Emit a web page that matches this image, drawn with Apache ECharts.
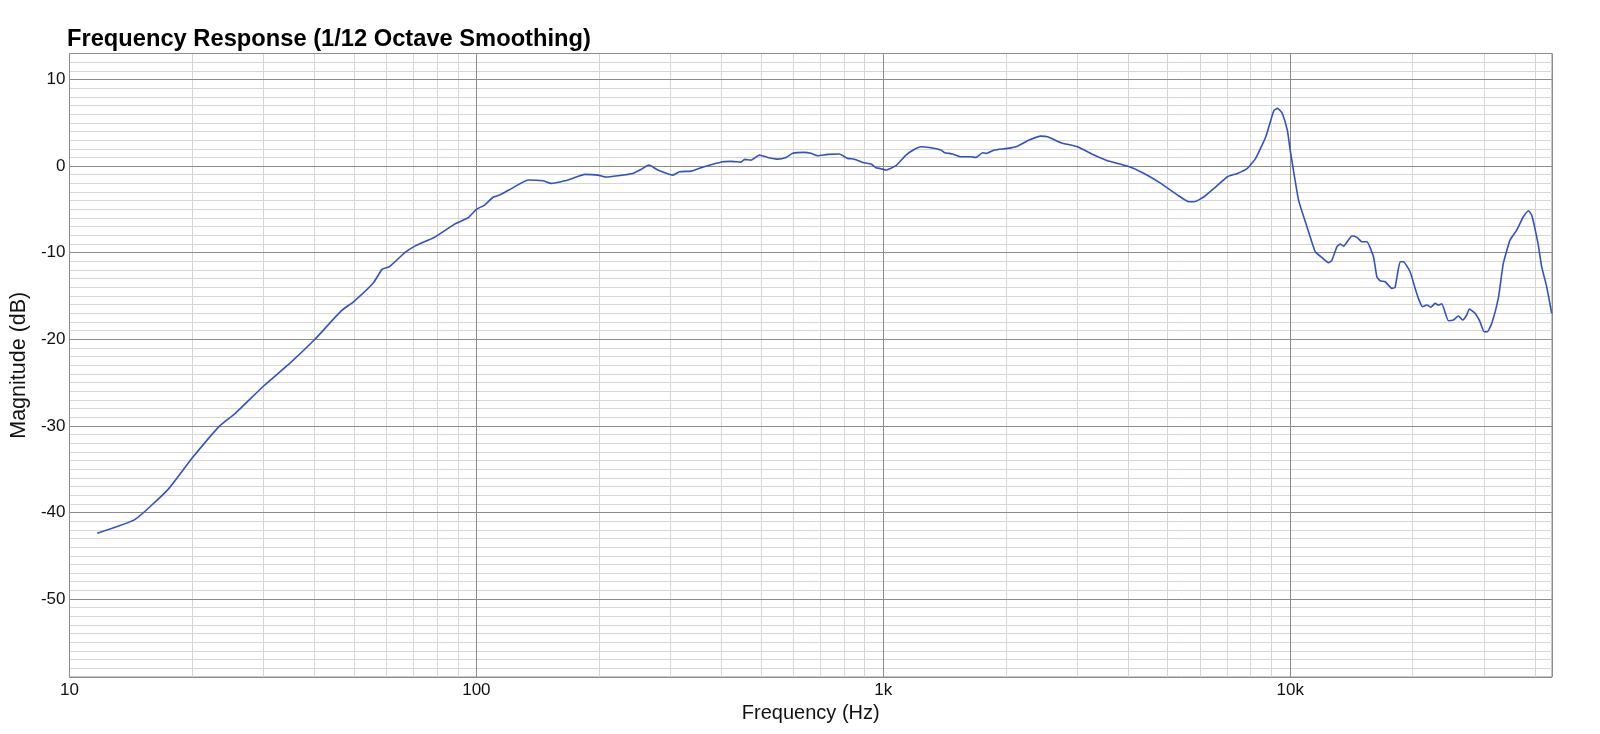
<!DOCTYPE html>
<html>
<head>
<meta charset="utf-8">
<title>Frequency Response</title>
<script src="https://cdn.jsdelivr.net/npm/echarts@6/dist/echarts.min.js"></script>
<style>
    html, body { margin: 0; padding: 0; background: #fff; }
    #chart { width: 1600px; height: 734px; }
</style>
</head>
<body>
<div id="chart"></div>
<script>
// 频率 (Hz)
var freqHz = [
    11.7, 14.5, 17.5, 20, 23.4, 25.5, 30, 35.1, 40.1, 46.6, 49.8, 55.8, 58.7, 61.2, 66.7, 70.6, 79, 88.4, 95.4,
    100, 104.8, 109.9, 114.1, 121.9, 134, 145.8, 152.8, 164.8, 172.8, 184.6, 199, 208.5, 222.8, 242.5, 254.2,
    265.5, 279.3, 304, 315.6, 337.3, 356.6, 377.3, 403.4, 422.7, 447, 456, 473, 496, 520, 550.5, 576.8, 599,
    640, 664, 690, 730, 780, 817.5, 849, 898, 933, 959, 987, 1015, 1074, 1137, 1191, 1237, 1309, 1385, 1412,
    1480, 1551, 1641, 1689, 1754, 1787, 1874, 2020, 2138, 2283, 2439, 2533, 2731, 3000, 3297, 3556, 3982,
    4375, 4811, 5286, 5641, 5807, 6142, 6567, 7012, 7420, 7848, 8224, 8710, 9040, 9141, 9300, 9420, 9566, 9840, 10000,
    10486, 10997, 11527, 11857, 12429, 12669, 13033, 13280, 13524, 14183, 14590, 15007, 15437, 16022, 16331,
    16638, 17116, 17774, 18109, 18629, 18980, 19709, 20277, 20663, 21135, 21667, 22160, 22708, 23136, 23582,
    24480, 25178, 25901, 26552, 27159, 27562, 28466, 29283, 29952, 30515, 31283, 32471, 33406, 34697, 36033,
    37411, 38486, 39227, 40718, 41509, 42701, 43919
];
// 幅度 (dB)
var magDb = [
    -42.4, -40.8, -37.3, -33.75, -30.0, -28.6, -25.4, -22.6, -20.0, -16.7, -15.7, -13.5, -11.9, -11.6, -10.0, -9.24, -8.2, -6.7, -5.97,
    -5.0, -4.5, -3.6, -3.35, -2.6, -1.6, -1.7, -2.0, -1.7, -1.4, -0.96, -1.04, -1.27, -1.12, -0.85, -0.38,
    0.12, -0.46, -1.04, -0.65, -0.58, -0.19, 0.15, 0.5, 0.54, 0.46, 0.77, 0.69, 1.27, 1.0, 0.8, 1.0, 1.47,
    1.58, 1.47, 1.19, 1.35, 1.39, 0.89, 0.8, 0.38, 0.23, -0.19, -0.3, -0.46, 0.04, 1.27, 1.92, 2.23, 2.12, 1.85, 1.58,
    1.39, 1.08, 1.08, 1.0, 1.54, 1.46, 1.85, 2.04, 2.3, 3.0, 3.46, 3.39, 2.7, 2.23, 1.27, 0.62, 0,
    -0.85, -2.0, -3.35, -4.12, -4.12, -3.54, -2.39, -1.23, -0.85, -0.27, 0.89, 3.39, 5.9, 6.47, 6.66, 6.47, 6.08, 4.16, 1.85,
    -3.93, -7.0, -9.9, -10.4, -11.17, -10.85, -9.3, -9.0, -9.24, -8.08, -8.23, -8.74, -8.74, -10.47, -12.78,
    -13.24, -13.36, -14.12, -14.0, -11.05, -11.05, -12.2, -14.1, -15.28, -16.24, -16.05, -16.3, -15.86, -16.05, -15.9,
    -17.86, -17.78, -17.32, -17.78, -17.2, -16.5, -17.0, -17.98, -19.13, -19.13, -18.17, -15.28, -11.24, -8.55, -7.39,
    -5.85, -5.16, -5.66, -9.12, -11.63, -13.94, -17.0
];
// 次网格线 (2..9 倍频)
var xMinorTicks = [
    20, 30, 40, 50, 60, 70, 80, 90,
    200, 300, 400, 500, 600, 700, 800, 900,
    2000, 3000, 4000, 5000, 6000, 7000, 8000, 9000,
    20000, 30000, 40000
];
var xMin = 10, xMax = 44000;
var yMin = -59, yMax = 13;

(function () {
    var myChart = echarts.init(document.getElementById("chart"));
    var font = "'Liberation Sans', Arial, Helvetica, sans-serif";
    var majorColor = "#8c8c8c";
    var minorColor = "#d6d6d6";

    var points = [];
    for (var i = 0; i < freqHz.length; i++) {
        points.push([freqHz[i], magDb[i]]);
    }

    var option = {
        animation: false,
        title: {
            text: "Frequency Response (1/12 Octave Smoothing)",
            left: 67,
            top: 27,
            padding: 0,
            textStyle: {
                fontFamily: font,
                fontSize: 23.7,
                fontWeight: "bold",
                color: "#000"
            }
        },
        grid: {
            left: 67.7,
            right: 48,
            top: 53.5,
            bottom: 57,
            show: true,
            borderColor: majorColor,
            borderWidth: 1,
            containLabel: false
        },
        xAxis: [
            {
                type: "log",
                logBase: 10,
                min: xMin,
                max: xMax,
                z: 3,
                name: "Frequency (Hz)",
                nameLocation: "middle",
                nameGap: 23,
                nameTextStyle: { fontFamily: font, fontSize: 20, color: "#111" },
                axisLine: { show: true, lineStyle: { color: majorColor, width: 1 } },
                axisTick: { show: false },
                axisLabel: {
                    margin: 5,
                    showMaxLabel: false,
                    fontFamily: font,
                    fontSize: 17,
                    color: "#111",
                    formatter: function (v) {
                        v = Math.round(v);
                        return v >= 1000 ? (v / 1000) + "k" : String(v);
                    }
                },
                splitLine: { show: true, lineStyle: { color: majorColor, width: 1 } }
            }
        ],
        yAxis: [
            {
                type: "value",
                min: yMin,
                max: yMax,
                splitNumber: 7,
                z: 3,
                name: "Magnitude (dB)",
                nameLocation: "middle",
                nameGap: 37,
                nameTextStyle: { fontFamily: font, fontSize: 21.5, color: "#111" },
                axisLine: { show: true, lineStyle: { color: majorColor, width: 1 } },
                axisTick: { show: false },
                axisLabel: {
                    margin: 4,
                    showMinLabel: false,
                    showMaxLabel: false,
                    fontFamily: font,
                    fontSize: 17,
                    color: "#111"
                },
                splitLine: { show: true, lineStyle: { color: majorColor, width: 1 } }
            },
            {
                // 1 dB 次网格
                type: "value",
                min: yMin,
                max: yMax,
                interval: 1,
                z: 0,
                axisLine: { show: false },
                axisTick: { show: false },
                axisLabel: { show: false },
                splitLine: { show: true, lineStyle: { color: minorColor, width: 1 } }
            }
        ],
        series: [
            {
                name: "minor",
                type: "line",
                z: 1,
                silent: true,
                data: [],
                markLine: {
                    z: 1,
                    silent: true,
                    symbol: "none",
                    animation: false,
                    label: { show: false },
                    emphasis: { disabled: true },
                    lineStyle: { color: minorColor, width: 1, type: "solid" },
                    data: xMinorTicks.map(function (v) { return { xAxis: v }; })
                }
            },
            {
                name: "Magnitude",
                type: "line",
                z: 5,
                data: points,
                showSymbol: false,
                symbol: "none",
                smooth: 0.15,
                lineStyle: { color: "#3352c2", width: 1.6 }
            }
        ]
    };
    myChart.setOption(option);
    window.addEventListener("resize", function () {
        myChart.resize();
    });
})();
</script>
</body>
</html>
